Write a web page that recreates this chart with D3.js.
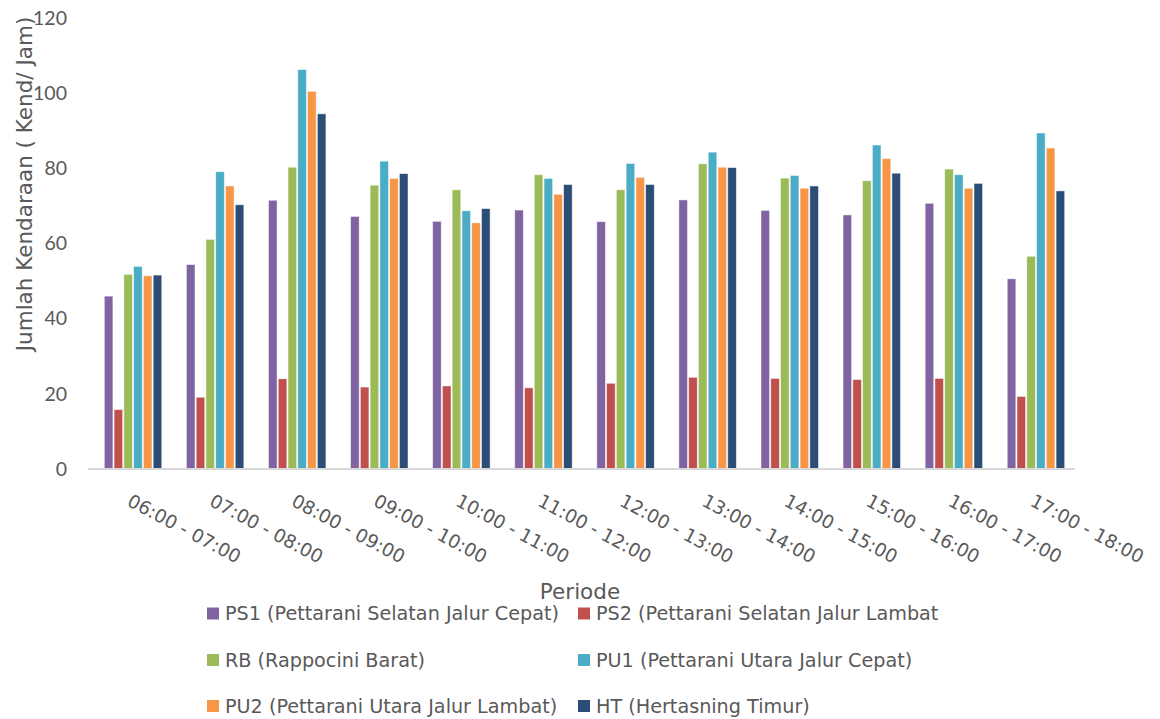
<!DOCTYPE html>
<html>
<head>
<meta charset="utf-8">
<script src="https://cdn.jsdelivr.net/npm/d3@7"></script>
<style>
  html, body { margin: 0; padding: 0; background: #fff; }
  svg { display: block; }
  text { font-family: "DejaVu Sans", Verdana, sans-serif; fill: #595959; }
</style>
</head>
<body>
<svg id="chart" width="1160" height="719"></svg>
<script>
// Hourly traffic volume per approach (kendaraan / jam)
const periods = ["06:00 - 07:00", "07:00 - 08:00", "08:00 - 09:00", "09:00 - 10:00",
  "10:00 - 11:00", "11:00 - 12:00", "12:00 - 13:00", "13:00 - 14:00",
  "14:00 - 15:00", "15:00 - 16:00", "16:00 - 17:00", "17:00 - 18:00"];

const seriesNames = [
  "PS1 (Pettarani Selatan Jalur Cepat)",
  "PS2 (Pettarani Selatan Jalur Lambat",
  "RB (Rappocini Barat)",
  "PU1 (Pettarani Utara Jalur Cepat)",
  "PU2 (Pettarani Utara Jalur Lambat)",
  "HT (Hertasning Timur)"
];
const seriesColors = ["#8064A2", "#C0504D", "#9BBB59", "#4BACC6", "#F79646", "#2C4D75"];

const PS1 = [46.0, 54.4, 71.5, 67.2, 65.9, 68.9, 65.8, 71.6, 68.8, 67.6, 70.7, 50.6];
const PS2 = [15.8, 19.1, 24.0, 21.8, 22.1, 21.6, 22.8, 24.4, 24.1, 23.8, 24.1, 19.3];
const RB  = [51.8, 61.1, 80.3, 75.5, 74.3, 78.3, 74.3, 81.2, 77.4, 76.7, 79.8, 56.6];
const PU1 = [53.9, 79.1, 106.3, 81.9, 68.7, 77.3, 81.3, 84.3, 78.1, 86.2, 78.3, 89.4];
const PU2 = [51.4, 75.3, 100.5, 77.3, 65.5, 73.1, 77.6, 80.3, 74.7, 82.6, 74.7, 85.4];
const HT  = [51.6, 70.3, 94.5, 78.6, 69.3, 75.7, 75.7, 80.2, 75.3, 78.7, 76.0, 74.0];

const yTicks = [0, 20, 40, 60, 80, 100, 120];

const seriesValues = [PS1, PS2, RB, PU1, PU2, HT];

const svg = d3.select("#chart");

const plot = { left: 92, right: 1077, top: 18, bottom: 469 };

const x0 = d3.scaleBand()
  .domain(periods)
  .range([plot.left, plot.right])
  .paddingInner(0.3)
  .paddingOuter(0.15);

const x1 = d3.scaleBand()
  .domain(d3.range(seriesNames.length))
  .range([0, x0.bandwidth()])
  .paddingInner(0.12);

const y = d3.scaleLinear().domain([0, 120]).range([plot.bottom, plot.top]);

// Bars
const groups = svg.append("g").selectAll("g")
  .data(periods)
  .join("g")
  .attr("transform", d => `translate(${x0(d)},0)`);

groups.selectAll("rect")
  .data((p, i) => seriesValues.map((vals, s) => ({ s, v: vals[i] })))
  .join("rect")
  .attr("x", d => x1(d.s))
  .attr("width", x1.bandwidth())
  .attr("y", d => y(d.v))
  .attr("height", d => y(0) - y(d.v))
  .attr("fill", d => seriesColors[d.s])
  .attr("stroke", "#ffffff")
  .attr("stroke-opacity", 0.6)
  .attr("stroke-width", 0.8);

// Baseline
svg.append("line")
  .attr("x1", plot.left - 4).attr("x2", plot.right - 2)
  .attr("y1", y(0)).attr("y2", y(0))
  .attr("stroke", "#D9D9D9").attr("stroke-width", 2);

// Y tick labels
const yAxis = d3.axisLeft(y).tickValues(yTicks).tickSize(0).tickPadding(0);
const yg = svg.append("g").attr("transform", `translate(67,0)`).call(yAxis);
yg.select(".domain").remove();
yg.selectAll("text")
  .style("font-size", "19.5px")
  .attr("fill", "#595959")
  .style("font-family", "Lato, 'Open Sans', sans-serif");

// X category labels, rotated
const xAxis = d3.axisBottom(x0).tickSize(0).tickPadding(0);
const xg = svg.append("g").attr("transform", `translate(0,${y(0)})`).call(xAxis);
xg.select(".domain").remove();
xg.selectAll("text")
  .attr("fill", "#595959")
  .style("font-size", "18.5px")
  .style("font-family", "'DejaVu Sans', Verdana, sans-serif")
  .attr("text-anchor", "start")
  .attr("dy", null)
  .attr("y", 0)
  .attr("transform", "translate(-7,36) rotate(28)");

// Axis titles
svg.append("text")
  .attr("transform", "translate(32,184) rotate(-90)")
  .attr("text-anchor", "middle")
  .style("font-size", "21.5px")
  .text("Jumlah Kendaraan ( Kend/ Jam)");

svg.append("text")
  .attr("x", 580).attr("y", 599)
  .attr("text-anchor", "middle")
  .style("font-size", "21.5px")
  .text("Periode");

// Legend: two columns, three rows
const legendCols = [207, 578];
const legendRows = [613.5, 660, 706];
const legend = svg.append("g").selectAll("g")
  .data(seriesNames)
  .join("g")
  .attr("transform", (d, i) => `translate(${legendCols[i % 2]},${legendRows[Math.floor(i / 2)]})`);

legend.append("rect")
  .attr("x", 0).attr("y", -6)
  .attr("width", 12).attr("height", 12)
  .attr("fill", (d, i) => seriesColors[i]);

legend.append("text")
  .attr("x", 18).attr("y", 0)
  .attr("dy", "0.36em")
  .style("font-size", "19.2px")
  .text(d => d);
</script>
</body>
</html>
